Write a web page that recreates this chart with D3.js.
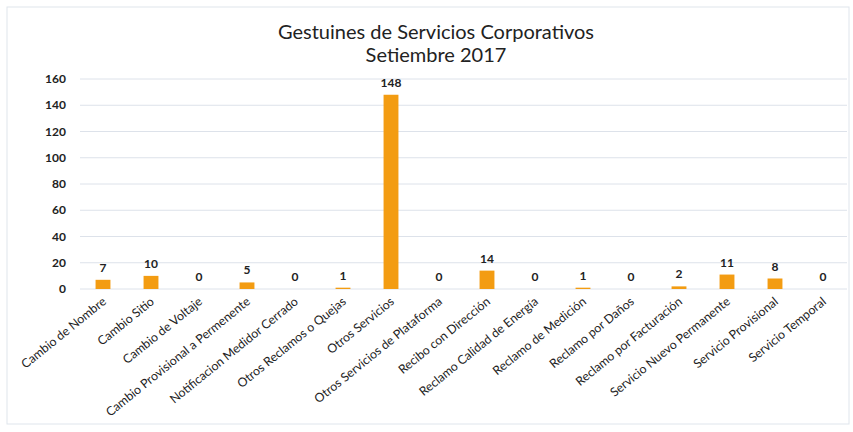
<!DOCTYPE html>
<html>
<head>
<meta charset="utf-8">
<script src="https://cdn.jsdelivr.net/npm/d3@7"></script>
<style>
  body { margin: 0; background: #fff; }
  svg { font-family: Lato, "Open Sans", sans-serif; }
  .title { font-size: 20px; fill: #222; }
  .tick-y { font-size: 12px; font-weight: bold; fill: #222; }
  .val { font-size: 12px; font-weight: bold; fill: #222; }
  .cat { font-size: 12.3px; fill: #222; }
</style>
</head>
<body>
<div id="chart"></div>
<script>
var categories = ['Cambio de Nombre', 'Cambio Sitio', 'Cambio de Voltaje', 'Cambio Provisional a Permenente',
  'Notificacion Medidor Cerrado', 'Otros Reclamos o Quejas', 'Otros Servicios', 'Otros Servicios de Plataforma',
  'Recibo con Dirección', 'Reclamo Calidad de Energía', 'Reclamo de Medición', 'Reclamo por Daños',
  'Reclamo por Facturación', 'Servicio Nuevo Permanente', 'Servicio Provisional', 'Servicio Temporal'];
var values = [7, 10, 0, 5, 0, 1, 148, 0, 14, 0, 1, 0, 2, 11, 8, 0];
var yTicks = [0, 20, 40, 60, 80, 100, 120, 140, 160];
var titleLines = ['Gestuines de Servicios Corporativos', 'Setiembre 2017'];

var width = 853, height = 432;
var svg = d3.select('#chart').append('svg').attr('width', width).attr('height', height);

// faint frame of the scanned chart
svg.append('rect').attr('x', 7).attr('y', 7).attr('width', 842).attr('height', 417)
  .attr('fill', 'none').attr('stroke', '#dfe5ec').attr('stroke-width', 1);

var x = d3.scaleBand().domain(categories).range([79, 847]).paddingInner(0.69).paddingOuter(0.345);
var y = d3.scaleLinear().domain([0, 160]).range([289, 79]);

// gridlines + y labels
svg.append('g').selectAll('line.grid').data(yTicks).enter().append('line').attr('class', 'grid')
  .attr('x1', 80).attr('x2', 847).attr('y1', function(d) { return y(d); }).attr('y2', function(d) { return y(d); })
  .attr('stroke', '#dde2ea').attr('stroke-width', 1);
svg.append('g').selectAll('text.tick-y').data(yTicks).enter().append('text').attr('class', 'tick-y')
  .attr('x', 66).attr('y', function(d) { return y(d) + 4; }).style('text-anchor', 'end').text(function(d) { return d; });

// bars
svg.append('g').selectAll('rect.bar').data(values).enter().append('rect').attr('class', 'bar')
  .attr('x', function(d, i) { return x(categories[i]); })
  .attr('y', function(d) { return y(d); })
  .attr('width', x.bandwidth())
  .attr('height', function(d) { return y(0) - y(d); })
  .attr('fill', '#f39c12');

// value labels
svg.append('g').selectAll('text.val').data(values).enter().append('text').attr('class', 'val')
  .attr('x', function(d, i) { return x(categories[i]) + x.bandwidth() / 2; })
  .attr('y', function(d) { return y(d) - 8; })
  .style('text-anchor', 'middle').text(function(d) { return d; });

// category labels, rotated
svg.append('g').selectAll('text.cat').data(categories).enter().append('text').attr('class', 'cat')
  .attr('transform', function(c) {
    return 'translate(' + (x(c) + x.bandwidth() / 2 + 4) + ',' + 303 + ') rotate(-39)';
  })
  .style('text-anchor', 'end').text(function(c) { return c; });

// title
svg.append('g').selectAll('text.title').data(titleLines).enter().append('text').attr('class', 'title')
  .attr('x', 436).attr('y', function(d, i) { return 39 + i * 23; })
  .style('text-anchor', 'middle').text(function(d) { return d; });
</script>
</body>
</html>
